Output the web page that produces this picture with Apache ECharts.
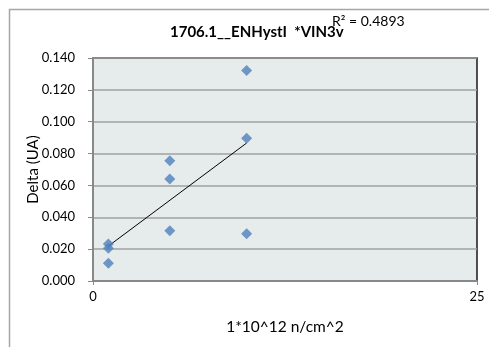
<!DOCTYPE html>
<html>
<head>
<meta charset="utf-8">
<script src="https://cdn.jsdelivr.net/npm/echarts@6/dist/echarts.min.js"></script>
<style>
html,body{margin:0;padding:0;background:#fff;}
#c{width:489px;height:347px;}
</style>
</head>
<body>
<div id="c"></div>
<script>
const xValues = [1, 1, 1, 5, 5, 5, 10, 10, 10];
const yValues = [0.0233, 0.0206, 0.0112, 0.0755, 0.0641, 0.0315, 0.1321, 0.0896, 0.0296];
const titleText = '1706.1__ENHystI  *VIN3v';
const r2Text = 'R² = 0.4893';
const xName = '1*10^12 n/cm^2';
const yName = 'Delta (UA)';

// linear least-squares trendline (Excel-style)
const n = xValues.length;
const mx = xValues.reduce((a, b) => a + b, 0) / n;
const my = yValues.reduce((a, b) => a + b, 0) / n;
let sxy = 0, sxx = 0;
for (let i = 0; i < n; i++) { sxy += (xValues[i] - mx) * (yValues[i] - my); sxx += (xValues[i] - mx) ** 2; }
const slope = sxy / sxx, icpt = my - slope * mx;
const xMin = Math.min(...xValues), xMax = Math.max(...xValues);
const trend = [[xMin, icpt + slope * xMin], [xMax, icpt + slope * xMax]];

const FONT = 'Lato, "Open Sans", sans-serif';
const chart = echarts.init(document.getElementById('c'), null, {renderer: 'canvas'});
chart.setOption({
  animation: false,
  backgroundColor: '#ffffff',
  graphic: [
    {type: 'rect', left: 7, top: 7, shape: {width: 500, height: 360}, style: {fill: 'none', stroke: '#a6a6a6', lineWidth: 1.5}, silent: true, z: -10},
    {type: 'text', left: 170, top: 25, style: {text: titleText, font: 'bold 15px ' + FONT, fill: '#000'}},
    {type: 'text', left: 332, top: 14, style: {text: r2Text, font: '14px ' + FONT, fill: '#000'}}
  ],
  grid: {left: 93, right: 12, top: 58, bottom: 66, show: true, backgroundColor: '#e6ecec', borderColor: '#1a1a1a', borderWidth: 1.5},
  xAxis: {
    type: 'value', min: 0, max: 25, interval: 25,
    name: xName, nameLocation: 'middle', nameGap: 38, nameMoveOverlap: false,
    nameTextStyle: {fontFamily: FONT, fontSize: 15.5, color: '#000'},
    axisLine: {show: true, onZero: false, lineStyle: {color: '#888', width: 2}},
    axisTick: {show: true, length: 4, lineStyle: {color: '#888'}},
    axisLabel: {fontFamily: FONT, fontSize: 13, color: '#000', margin: 9},
    splitLine: {show: false}
  },
  yAxis: {
    type: 'value', min: 0, max: 0.14, interval: 0.02,
    name: yName, nameLocation: 'middle', nameGap: 52, nameMoveOverlap: false,
    nameTextStyle: {fontFamily: FONT, fontSize: 15, color: '#000'},
    axisLine: {show: true, lineStyle: {color: '#888', width: 2}},
    axisTick: {show: true, length: 5, lineStyle: {color: '#888'}},
    axisLabel: {fontFamily: FONT, fontSize: 13, color: '#000', margin: 18, formatter: v => v.toFixed(3)},
    splitLine: {show: true, lineStyle: {color: '#a0a0a0', width: 1.5}}
  },
  series: [
    {type: 'line', data: trend, symbol: 'none', lineStyle: {color: '#000', width: 1}, z: 3},
    {type: 'scatter', data: xValues.map((x, i) => [x, yValues[i]]), symbol: 'diamond', symbolSize: 11, itemStyle: {color: '#4f81bd'}, z: 4}
  ]
});
</script>
</body>
</html>
